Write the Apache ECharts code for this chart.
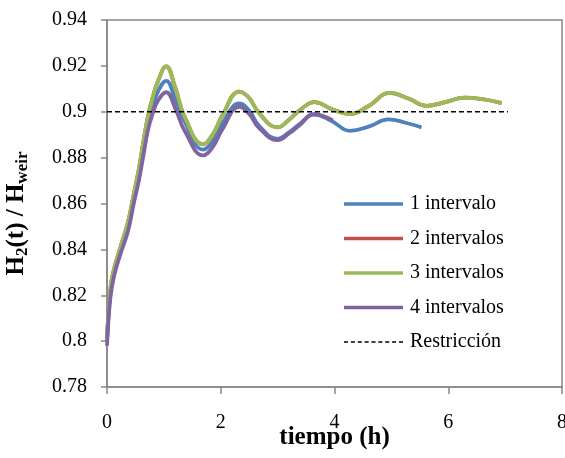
<!DOCTYPE html>
<html>
<head>
<meta charset="utf-8">
<script src="https://cdn.jsdelivr.net/npm/echarts@6/dist/echarts.min.js"></script>
<style>html,body{margin:0;padding:0;background:#fff}#c{width:565px;height:458px}</style>
</head>
<body>
<div id="c"></div>
<script>
var seriesNames = ['1 intervalo', '2 intervalos', '3 intervalos', '4 intervalos', 'Restricción'];

var t1 = [0, 0.06, 0.13, 0.25, 0.37, 0.47, 0.56, 0.64, 0.72, 0.8, 0.9, 1.04, 1.2, 1.37, 1.69, 1.87, 2.02, 2.33, 2.5, 2.67, 3.0, 3.2, 3.38, 3.64, 3.95, 4.27, 4.6, 4.95, 5.25, 5.53];
var v1 = [0.8, 0.821, 0.83, 0.84, 0.849, 0.861, 0.871, 0.883, 0.895, 0.902, 0.909, 0.9135, 0.9055, 0.8955, 0.8835, 0.8875, 0.8945, 0.9036, 0.9005, 0.894, 0.8882, 0.891, 0.8945, 0.8988, 0.896, 0.8917, 0.8935, 0.8967, 0.8952, 0.8932];

var t2 = [0, 0.06, 0.13, 0.25, 0.37, 0.47, 0.56, 0.64, 0.72, 0.8, 0.9, 1.04, 1.2, 1.37, 1.69, 1.87, 2.02, 2.33, 2.5, 2.67, 3.0, 3.2, 3.38, 3.65, 3.95, 4.27, 4.6, 4.97, 5.3, 5.62, 5.95, 6.29, 6.6, 6.94];
var v2 = [0.8, 0.823, 0.832, 0.842, 0.852, 0.864, 0.875, 0.887, 0.898, 0.906, 0.9135, 0.9198, 0.9105, 0.8975, 0.8858, 0.8905, 0.898, 0.9088, 0.906, 0.8995, 0.8932, 0.8965, 0.9005, 0.9042, 0.9012, 0.899, 0.9025, 0.9082, 0.9058, 0.9026, 0.9042, 0.9062, 0.9055, 0.9038];

var t3 = [0, 0.06, 0.13, 0.25, 0.37, 0.47, 0.56, 0.64, 0.72, 0.8, 0.9, 1.04, 1.2, 1.37, 1.69, 1.87, 2.02, 2.33, 2.5, 2.67, 3.0, 3.2, 3.38, 3.65, 3.95, 4.27, 4.6, 4.97, 5.3, 5.62, 5.95, 6.29, 6.6, 6.94];
var v3 = [0.8, 0.823, 0.832, 0.842, 0.852, 0.864, 0.875, 0.887, 0.898, 0.906, 0.9135, 0.9198, 0.9105, 0.8975, 0.8858, 0.8905, 0.898, 0.9088, 0.906, 0.8995, 0.8932, 0.8965, 0.9005, 0.9042, 0.9012, 0.899, 0.9025, 0.9082, 0.9058, 0.9026, 0.9042, 0.9062, 0.9055, 0.9038];

var t4 = [0, 0.06, 0.13, 0.25, 0.37, 0.47, 0.56, 0.64, 0.72, 0.8, 0.9, 1.04, 1.2, 1.37, 1.69, 1.87, 2.02, 2.33, 2.5, 2.67, 3.0, 3.2, 3.38, 3.64, 3.97];
var v4 = [0.798, 0.819, 0.829, 0.839, 0.848, 0.86, 0.87, 0.881, 0.892, 0.899, 0.905, 0.9085, 0.9015, 0.8915, 0.881, 0.885, 0.892, 0.9021, 0.899, 0.893, 0.8876, 0.8905, 0.894, 0.899, 0.8962];

var tR = [0, 7.05];
var vR = [0.9, 0.9];

var xTicks = [0, 2, 4, 6, 8];
var yTicks = [0.78, 0.8, 0.82, 0.84, 0.86, 0.88, 0.9, 0.92, 0.94];

function pairs(t, v) { return t.map(function (x, i) { return [x, v[i]]; }); }

var colors = ['#4F81BD', '#C0504D', '#9BBB59', '#8064A2', '#000000'];
var font = 'Liberation Serif';
var axisGray = '#868686';

// dashed legend icon: 60 x 1.5 path
var dashPath = 'path://';
for (var k = 0; k < 60; k += 6.8) { dashPath += 'M' + k + ',0h4v1.5h-4z'; }

var chart = echarts.init(document.getElementById('c'), null, { renderer: 'canvas' });
var lineSeries = [pairs(t1, v1), pairs(t2, v2), pairs(t3, v3), pairs(t4, v4)].map(function (d, i) {
  return {
    name: seriesNames[i], type: 'line', data: d, smooth: 0.45, symbol: 'none',
    lineStyle: { color: colors[i], width: 3.8 }, itemStyle: { color: colors[i] }
  };
});
lineSeries.push({
  name: seriesNames[4], type: 'line', data: pairs(tR, vR), symbol: 'none',
  lineStyle: { color: '#000', width: 1.5, type: [5, 3] }, itemStyle: { color: '#000' }
});

var legendData = seriesNames.map(function (n, i) {
  return { name: n, icon: i < 4 ? 'rect' : dashPath, itemStyle: { color: colors[i] } };
});

chart.setOption({
  animation: false,
  backgroundColor: '#fff',
  grid: { left: 107, right: 3, top: 20, bottom: 71, outerBoundsMode: 'none', containLabel: false,
    show: true, borderColor: axisGray, borderWidth: 1.5, backgroundColor: 'transparent' },
  legend: {
    orient: 'vertical', left: 339, top: 189, itemWidth: 59, itemHeight: 3.6, itemGap: 14.5,
    data: legendData,
    textStyle: { fontFamily: font, fontSize: 20, color: '#000', padding: [0, 0, 0, 2] }
  },
  xAxis: {
    type: 'value', min: xTicks[0], max: xTicks[xTicks.length - 1], interval: 2,
    axisLine: { show: true, lineStyle: { color: axisGray, width: 1.5 } },
    axisTick: { show: true, inside: false, length: 7, lineStyle: { color: axisGray, width: 1.5 } },
    splitLine: { show: false },
    axisLabel: { fontFamily: font, fontSize: 20, color: '#000', margin: 26 },
    name: 'tiempo (h)', nameLocation: 'middle', nameGap: 38, nameMoveOverlap: false,
    nameTextStyle: { fontFamily: font, fontSize: 25, fontWeight: 'bold', color: '#000' }
  },
  yAxis: {
    type: 'value', min: yTicks[0], max: yTicks[yTicks.length - 1], interval: 0.02,
    axisLine: { show: true, lineStyle: { color: axisGray, width: 1.5 } },
    axisTick: { show: true, inside: false, length: 6, lineStyle: { color: axisGray, width: 1.5 } },
    splitLine: { show: false },
    axisLabel: { fontFamily: font, fontSize: 20, color: '#000', margin: 20,
      formatter: function (v) { return String(parseFloat(v.toFixed(2))); } },
    name: '{b|H}{s|2}{b|(t) / H}{s|weir}', nameLocation: 'middle', nameGap: 76, nameRotate: 90, nameMoveOverlap: false,
    nameTextStyle: {
      padding: [0, 20, 0, 0],
      rich: {
        b: { fontFamily: font, fontSize: 25, fontWeight: 'bold', color: '#000', lineHeight: 28 },
        s: { fontFamily: font, fontSize: 17, fontWeight: 'bold', color: '#000', lineHeight: 17, verticalAlign: 'bottom' }
      }
    }
  },
  series: lineSeries
});
</script>
</body>
</html>
